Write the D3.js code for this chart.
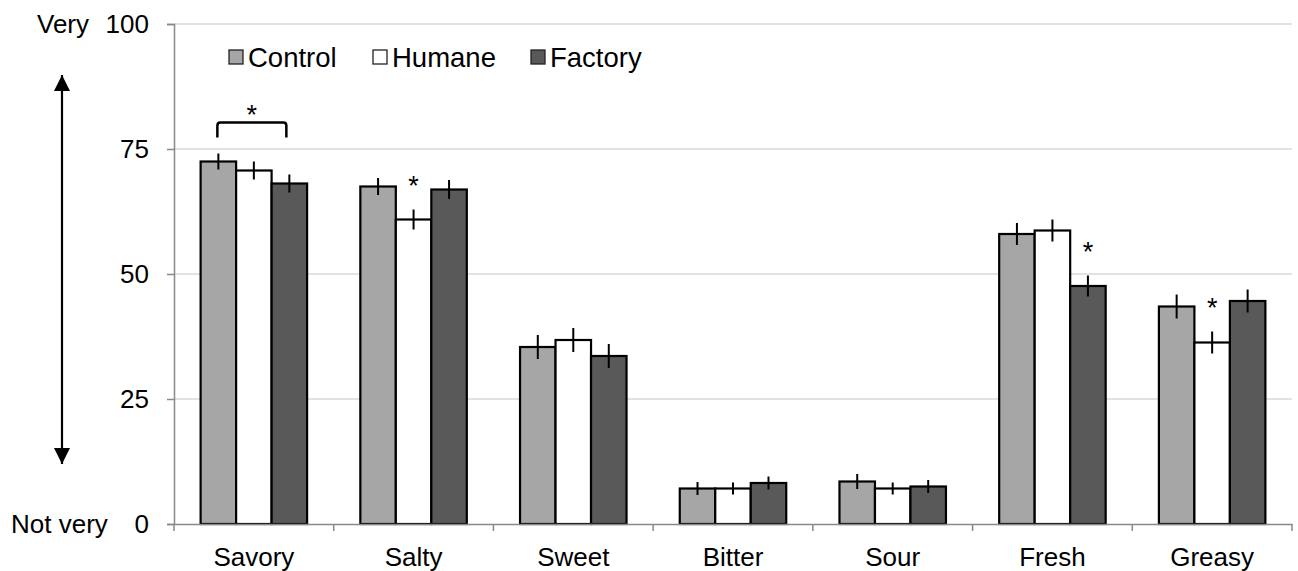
<!DOCTYPE html>
<html><head><meta charset="utf-8">
<script src="https://cdn.jsdelivr.net/npm/d3@7"></script>
<style>
html,body{margin:0;padding:0;background:#fff;}
svg{display:block;font-family:"Liberation Sans",Arial,sans-serif;}
</style></head>
<body>
<svg id="chart" width="1298" height="571"></svg>
<script>
const categories = ["Savory","Salty","Sweet","Bitter","Sour","Fresh","Greasy"];
const seriesNames = ["Control","Humane","Factory"];
const control = [72.5, 67.5, 35.4, 7.1, 8.5, 58.0, 43.5];
const humane  = [70.7, 60.9, 36.8, 7.1, 7.1, 58.7, 36.3];
const factory = [68.1, 66.9, 33.6, 8.2, 7.5, 47.6, 44.6];
const controlErr = [1.6, 1.7, 2.4, 1.3, 1.5, 2.2, 2.4];
const humaneErr  = [1.8, 2.0, 2.4, 1.2, 1.2, 2.2, 2.2];
const factoryErr = [1.8, 1.9, 2.4, 1.3, 1.3, 2.1, 2.3];
const yTicks = [0, 25, 50, 75, 100];
const stars = [["Salty","Humane"],["Fresh","Factory"],["Greasy","Humane"]];
const bracket = ["Savory","Control","Factory"];
const colors = ["#a6a6a6","#ffffff","#595959"];

const values = [control, humane, factory];
const errs = [controlErr, humaneErr, factoryErr];

const svg = d3.select("#chart");
const mLeft = 174, mRight = 1292, mTop = 24, mBottom = 524;

const x = d3.scaleBand().domain(categories).range([mLeft, mRight]).paddingInner(0).paddingOuter(0);
const inner = d3.scaleBand().domain(seriesNames).range([0, x.bandwidth()]).paddingOuter(0.75).paddingInner(0);
const y = d3.scaleLinear().domain([0, 100]).range([mBottom, mTop]);

// gridlines
svg.append("g").selectAll("line").data(yTicks.filter(d => d > 0)).join("line")
  .attr("x1", mLeft).attr("x2", mRight).attr("y1", d => y(d)).attr("y2", d => y(d))
  .attr("stroke", "#d9d9d9").attr("stroke-width", 1.5);

// y axis
const yAxis = svg.append("g").attr("transform", `translate(${mLeft},0)`)
  .call(d3.axisLeft(y).tickValues(yTicks).tickSize(7).tickPadding(18));
yAxis.select(".domain").attr("stroke", "#898989").attr("stroke-width", 1.5);
yAxis.selectAll(".tick line").attr("stroke", "#898989").attr("stroke-width", 1.5);
yAxis.selectAll(".tick text").attr("font-size", 26).attr("fill", "#000")
  .attr("font-family", "Liberation Sans, Arial, sans-serif");

// bars
const gBars = svg.append("g");
categories.forEach((c, ci) => {
  seriesNames.forEach((s, si) => {
    gBars.append("rect")
      .attr("x", x(c) + inner(s)).attr("width", inner.bandwidth())
      .attr("y", y(values[si][ci])).attr("height", y(0) - y(values[si][ci]))
      .attr("fill", colors[si]).attr("stroke", "#000").attr("stroke-width", 2.2);
  });
});
// error bars
categories.forEach((c, ci) => {
  seriesNames.forEach((s, si) => {
    const cx = x(c) + inner(s) + inner.bandwidth() / 2;
    const v = values[si][ci], e = errs[si][ci];
    gBars.append("line").attr("x1", cx).attr("x2", cx)
      .attr("y1", y(v + e)).attr("y2", y(v - e))
      .attr("stroke", "#000").attr("stroke-width", 2);
  });
});

// x axis
const xAxis = svg.append("g").attr("transform", `translate(0,${mBottom})`)
  .call(d3.axisBottom(x).tickSize(0).tickPadding(24));
xAxis.select(".domain").attr("stroke", "#898989").attr("stroke-width", 1.5);
xAxis.selectAll(".tick text").attr("font-size", 26).attr("fill", "#000")
  .attr("font-family", "Liberation Sans, Arial, sans-serif");
xAxis.append("g").selectAll("line").data(d3.range(categories.length + 1)).join("line")
  .attr("x1", i => mLeft + i * x.step()).attr("x2", i => mLeft + i * x.step())
  .attr("y1", 0).attr("y2", 7).attr("stroke", "#898989").attr("stroke-width", 1.5);

// significance stars
stars.forEach(([c, s]) => {
  const ci = categories.indexOf(c), si = seriesNames.indexOf(s);
  const cx = x(c) + inner(s) + inner.bandwidth() / 2;
  svg.append("text").attr("x", cx).attr("y", y(values[si][ci] + errs[si][ci]) - 15)
    .attr("text-anchor", "middle").attr("font-size", 27).text("*");
});
// bracket
{
  const ci = categories.indexOf(bracket[0]);
  const a = seriesNames.indexOf(bracket[1]), b = seriesNames.indexOf(bracket[2]);
  const x1 = x(bracket[0]) + inner(bracket[1]) + inner.bandwidth() / 2 - 1;
  const x2 = x(bracket[0]) + inner(bracket[2]) + inner.bandwidth() / 2 - 3;
  const topV = Math.max(values[a][ci] + errs[a][ci], values[b][ci] + errs[b][ci]);
  const by = y(topV) - 31;
  const r = 3;
  svg.append("path")
    .attr("d", `M${x1},${by + 15} L${x1},${by + r} Q${x1},${by} ${x1 + r},${by} L${x2 - r},${by} Q${x2},${by} ${x2},${by + r} L${x2},${by + 15}`)
    .attr("fill", "none").attr("stroke", "#000").attr("stroke-width", 2.5);
  svg.append("text").attr("x", (x1 + x2) / 2).attr("y", by + 1)
    .attr("text-anchor", "middle").attr("font-size", 27).text("*");
}

// legend
const legX = [229, 373, 531];
seriesNames.forEach((s, i) => {
  svg.append("rect").attr("x", legX[i]).attr("y", 50).attr("width", 14).attr("height", 14)
    .attr("fill", colors[i]).attr("stroke", "#222").attr("stroke-width", 1.3);
  svg.append("text").attr("x", legX[i] + 19).attr("y", 67).attr("font-size", 27.5).text(s);
});

// side annotations
svg.append("text").attr("x", 37).attr("y", 33).attr("font-size", 26).text("Very");
svg.append("text").attr("x", 11).attr("y", 533).attr("font-size", 26).text("Not very");
const defs = svg.append("defs");
defs.append("marker").attr("id", "ah").attr("viewBox", "0 0 10 10").attr("refX", 10).attr("refY", 5)
  .attr("markerWidth", 16).attr("markerHeight", 16).attr("markerUnits", "userSpaceOnUse")
  .attr("orient", "auto-start-reverse")
  .append("path").attr("d", "M0,0 L10,5 L0,10 Z").attr("fill", "#000");
svg.append("line").attr("x1", 62).attr("x2", 62).attr("y1", 75).attr("y2", 464)
  .attr("stroke", "#000").attr("stroke-width", 2.2)
  .attr("marker-start", "url(#ah)").attr("marker-end", "url(#ah)");
</script>
</body></html>
